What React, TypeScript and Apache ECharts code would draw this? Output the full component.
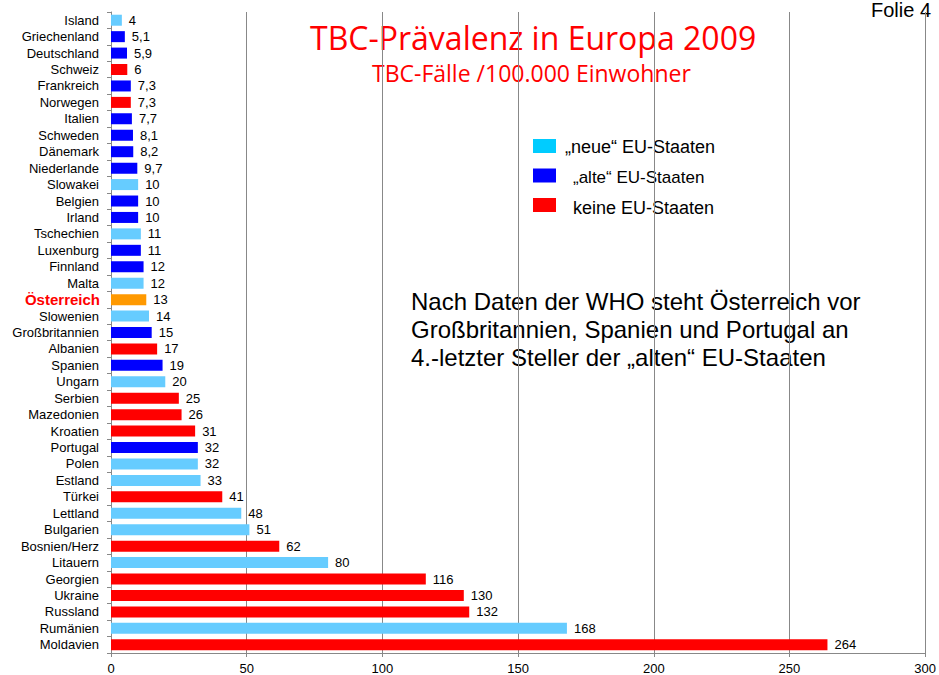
import React, { useEffect, useRef } from "react";
import * as echarts from "echarts";

const countries = [
  "Island", "Griechenland", "Deutschland", "Schweiz", "Frankreich", "Norwegen", "Italien",
  "Schweden", "Dänemark", "Niederlande", "Slowakei", "Belgien", "Irland", "Tschechien",
  "Luxenburg", "Finnland", "Malta", "Österreich", "Slowenien", "Großbritannien", "Albanien",
  "Spanien", "Ungarn", "Serbien", "Mazedonien", "Kroatien", "Portugal", "Polen", "Estland",
  "Türkei", "Lettland", "Bulgarien", "Bosnien/Herz", "Litauern", "Georgien", "Ukraine",
  "Russland", "Rumänien", "Moldavien",
];
const values = [
  4, 5.1, 5.9, 6, 7.3, 7.3, 7.7, 8.1, 8.2, 9.7, 10, 10, 10, 11, 11, 12, 12, 13, 14, 15, 17,
  19, 20, 25, 26, 31, 32, 32, 33, 41, 48, 51, 62, 80, 116, 130, 132, 168, 264,
];
// N = "neue" EU-Staaten, A = "alte" EU-Staaten, K = keine EU-Staaten, O = Österreich
const groups = [
  "N", "A", "A", "K", "A", "K", "A", "A", "A", "A", "N", "A", "A", "N", "A", "A", "N", "O",
  "N", "A", "K", "A", "N", "K", "K", "K", "A", "N", "N", "K", "N", "N", "K", "N", "K", "K",
  "K", "N", "K",
];
const xTicks = [0, 50, 100, 150, 200, 250, 300];
const legendLabels = ["\u201Eneue\u201C EU-Staaten", "\u201Ealte\u201C EU-Staaten", "keine EU-Staaten"];

const groupColors: Record<string, string> = {
  N: "#66CCFF",
  A: "#0000FF",
  K: "#FF0000",
  O: "#FF9900",
};
const legendColors = ["#00CCFF", "#0000FF", "#FF0000"];
const legendTextLeft = [565, 573, 573];
const legendFontSize = [18, 17, 18];

export default function App() {
  const ref = useRef<HTMLDivElement>(null);
  useEffect(() => {
    if (!ref.current) return;
    const chart = echarts.init(ref.current, null, { renderer: "svg" });
    const font = "Liberation Sans, Arial, sans-serif";
    const titleFont = "'Open Sans', 'Noto Sans', sans-serif";
    chart.setOption({
      animation: false,
      backgroundColor: "#ffffff",
      textStyle: { fontFamily: font },
      grid: { left: 111, right: 13, top: 12, bottom: 22, containLabel: false },
      xAxis: {
        type: "value",
        min: xTicks[0],
        max: xTicks[xTicks.length - 1],
        interval: 50,
        axisLine: { show: true, lineStyle: { color: "#888888", width: 1 } },
        axisTick: { show: true, length: 4, lineStyle: { color: "#888888" } },
        axisLabel: { color: "#000", fontSize: 13, fontFamily: font, margin: 9 },
        splitLine: { show: true, lineStyle: { color: "#888888", width: 1 } },
      },
      yAxis: {
        type: "category",
        inverse: true,
        data: countries,
        axisLine: { show: true, lineStyle: { color: "#888888", width: 1 } },
        axisTick: { show: true, length: 4, lineStyle: { color: "#888888" } },
        axisLabel: {
          color: "#000",
          fontSize: 13,
          fontFamily: font,
          margin: 12,
          interval: 0,
          formatter: (v: string) => (v === "Österreich" ? "{o|" + v + "}" : v),
          rich: {
            o: { color: "#FF0000", fontWeight: "bold", fontSize: 15, fontFamily: font, padding: [0, -1, 0, 0] },
          },
        },
      },
      series: [
        {
          type: "bar",
          barWidth: 11,
          data: values.map((v, i) => ({
            value: v,
            itemStyle: { color: groupColors[groups[i]] },
          })),
          label: {
            show: true,
            position: "right",
            distance: 7,
            color: "#000",
            fontSize: 13,
            fontFamily: font,
            formatter: (p: any) => String(p.value).replace(".", ","),
          },
        },
      ],
      graphic: [
        {
          type: "text",
          left: 310,
          top: 21,
          style: {
            text: "TBC-Prävalenz in Europa 2009",
            fill: "#FF0000",
            font: "32px " + titleFont,
          },
        },
        {
          type: "text",
          left: 372,
          top: 61,
          style: {
            text: "TBC-Fälle /100.000 Einwohner",
            fill: "#FF0000",
            font: "23px " + titleFont,
          },
        },
        {
          type: "text",
          right: 8,
          top: 0,
          style: { text: "Folie 4", fill: "#000", font: "20px " + font },
        },
        ...legendLabels.flatMap((t, i) => [
          {
            type: "rect",
            shape: { x: 533, y: 139 + i * 29.5, width: 23, height: 14 },
            style: { fill: legendColors[i] },
          },
          {
            type: "text",
            left: legendTextLeft[i],
            top: 147 + i * 30.5 - legendFontSize[i] / 2,
            style: { text: t, fill: "#000", font: legendFontSize[i] + "px " + font },
          },
        ]),
        {
          type: "text",
          left: 411,
          top: 287,
          style: {
            text:
              "Nach Daten der WHO steht Österreich vor\nGroßbritannien, Spanien und Portugal an\n4.-letzter Steller der \u201Ealten\u201C EU-Staaten",
            fill: "#000",
            font: "24px " + font,
            lineHeight: 28,
          },
        },
      ],
    });
    return () => chart.dispose();
  }, []);
  return <div ref={ref} style={{ width: 939, height: 675, position: "absolute", left: 0, top: 0 }} />;
}
